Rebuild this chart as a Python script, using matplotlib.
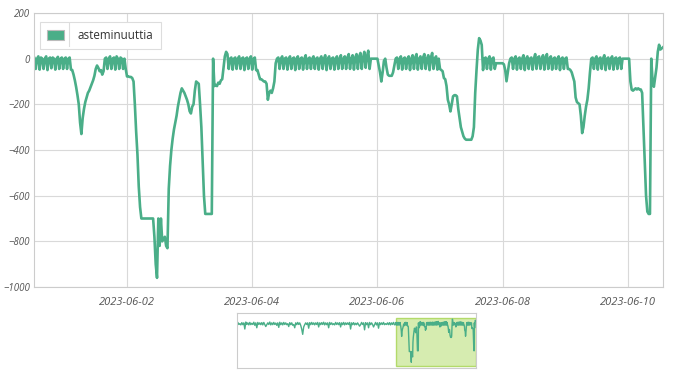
import matplotlib
matplotlib.use('Agg')
import matplotlib.pyplot as plt
import matplotlib.dates as mdates
from matplotlib.patches import Patch
from matplotlib.lines import Line2D
import pandas as pd

# half-hourly values, starting 2023-05-31 12:00
main_start = '2023-05-31 12:00'
main_values = [
    # 05-31 pm
    0, 5, -45, 0, 10, -48, 5, 0, -45, 0, 10, -50, 0, 5, -42, 5, 0, -48, 0, 8, -45, 0, 5, -45,
    # 06-01
    0, 5, -45, 0, 5, -48, -50, -70, -95, -125, -160, -200, -280, -330, -260, -220, -190, -170, -150, -140, -125, -110, -95, -75,
    -45, -30, -40, -55, -50, -70, -55, 0, 5, -45, 0, 10, -45, 0, 5, -48, 10, 0, -45, 5, 0, -45, 0, -45,
    # 06-02
    -78, -78, -80, -80, -85, -100, -200, -320, -420, -560, -650, -700, -700, -700, -700, -700, -700, -700, -700, -700, -700, -780, -900, -960,
    -700, -820, -700, -800, -790, -780, -820, -830, -570, -470, -400, -350, -310, -280, -250, -210, -180, -150, -130, -140, -150, -165, -180, -200,
    # 06-03
    -230, -240, -210, -200, -140, -100, -105, -110, -200, -300, -450, -600, -680, -680, -680, -680, -680, -680, 0, -120, -115, -120, -105, -110,
    -95, -90, -40, 10, 30, 20, -45, 0, 5, -48, 0, 5, -45, 0, 10, -45, 0, 5, -50, 0, 5, -45, 0, 10,
    # 06-04
    -48, 0, 5, -50, -50, -70, -90, -90, -95, -100, -100, -110, -180, -150, -140, -150, -130, -100, -20, 0, 5, -45, 0, 10,
    -45, 0, 5, -48, 0, 10, -45, 0, 5, -50, 0, 10, -45, 0, 5, -48, 0, 15, -45, 0, 5, -45, 0, 10,
    # 06-05
    -45, 0, 5, -48, 0, 10, -45, 0, 15, -50, 0, 10, -45, 0, 5, -48, 0, 10, -45, 0, 15, -45, 0, 10,
    -45, 5, 20, -45, 0, 15, -48, 5, 20, -45, 10, 25, -45, 5, 30, -40, 10, 35, -45, 0, 0, 0, 0, 0,
    # 06-06
    0, -30, -60, -100, -60, -10, 0, -40, -70, -75, -75, -75, -60, -30, 0, 5, -45, 0, 10, -48, 0, 5, -45, 0,
    10, -50, 0, 15, -45, 5, 20, -48, 0, 10, -45, 5, 20, -45, 0, 15, -50, 5, 25, -45, 0, 10, -48, 0,
    # 06-07
    -45, -50, -55, -85, -90, -120, -180, -200, -231, -200, -165, -160, -160, -165, -220, -260, -300, -320, -340, -350, -355, -355, -355, -355,
    -355, -340, -300, -150, -50, 40, 90, 80, 60, -50, 0, 5, -45, 0, 10, -48, 0, 5, -45, -20, -20, -20, -20, -20,
    # 06-08
    -20, -25, -50, -99, -60, -20, 0, 5, -45, 0, 10, -48, 0, 5, -45, 0, 15, -50, 0, 10, -45, 0, 5, -48,
    0, 20, -45, 5, 10, -45, 0, 15, -48, 5, 20, -45, 0, 10, -48, 0, 5, -45, 0, 10, -50, 0, 5, -45,
    # 06-09
    0, 5, -45, -45, -50, -60, -80, -100, -170, -190, -195, -200, -250, -326, -300, -250, -210, -180, -130, -60, 0, 5, -45, 0,
    10, -48, 0, 5, -45, 0, 15, -50, 0, 5, -45, 0, 10, -48, 0, 5, -45, 0, 5, -45, 0, 0, 0, 0,
    # 06-10
    0, 0, -100, -136, -140, -135, -130, -135, -130, -135, -135, -150, -297, -450, -600, -670, -680, -680, 0, -100, -123, -80, -40, 30,
    61, 40, 45, 50,
]

# 3-hourly values for the navigator before the main window, from 2023-05-11 12:00
nav_start = '2023-05-11 12:00'
nav_values = [
    0, -45, 10, -40, -20, -50, 5, -45,
    0, -150, 20, -40, 0, -50, 10, -45,
    -10, -40, 15, -60, 0, -120, 10, -40,
    0, -45, 5, -50, 10, -40, -90, -45,
    0, -40, 20, -50, 0, -45, 10, -40,
    -5, -60, 0, -110, 15, -45, 0, -50,
    10, -40, 0, -45, -20, -90, 5, -45,
    0, -60, -40, -120, 0, -45, 10, -40,
    0, -60, -150, -280, -100, -45, 0, -40,
    0, -130, 5, -45, 10, -40, 0, -50,
    0, -40, 10, -100, 0, -45, 5, -40,
    15, -50, 0, -45, 0, -120, 10, -40,
    0, -45, -20, -50, 10, -40, 0, -45,
    5, -100, 0, -45, 10, -50, 0, -40,
    0, -40, 10, -150, 0, -45, 5, -50,
    -10, -45, 0, -40, -80, -45, 10, -40,
    0, -170, 5, -45, 0, -120, 10, -45,
    0, -40, -100, -45, 10, -50, 0, -130,
    5, -45, 0, -40, 10, -45, -20, -40,
    0, -45, 5, -50, 0, -40, 10, -45,
]

series_name = 'asteminuuttia'
y_ticks = [-1000, -800, -600, -400, -200, 0, 200]
x_ticks = ['2023-06-02', '2023-06-04', '2023-06-06', '2023-06-08', '2023-06-10']
view_range = ('2023-05-31 12:20', '2023-06-10 13:30')
nav_range = ('2023-05-11 14:00', '2023-06-10 14:00')

GREEN = '#4aae88'
GRID = '#d9d9d9'
TEXT = '#555555'
FONT = ['Open Sans', 'DejaVu Sans']

main_times = pd.date_range(main_start, periods=len(main_values), freq='30min')
nav_times = pd.date_range(nav_start, periods=len(nav_values), freq='3h')

fig = plt.figure(figsize=(6.74, 3.72), dpi=100)
plt.rcParams['font.family'] = FONT

# main chart
ax = fig.add_axes([34 / 674, 1 - 287 / 372, 629 / 674, 274 / 372])
ax.plot(main_times, main_values, color=GREEN, lw=1.9, solid_joinstyle='round')
ax.set_xlim(pd.Timestamp(view_range[0]), pd.Timestamp(view_range[1]))
ax.set_ylim(-1000, 200)
ax.set_yticks(y_ticks)
ax.set_xticks([pd.Timestamp(t) for t in x_ticks])
ax.xaxis.set_major_formatter(mdates.DateFormatter('%Y-%m-%d'))
ax.grid(True, color=GRID, lw=0.8)
ax.set_axisbelow(True)
for sp in ax.spines.values():
    sp.set_color('#cccccc')
    sp.set_linewidth(0.8)
ax.tick_params(length=0, colors=TEXT)
ax.tick_params(axis='x', pad=7, labelsize=8)
ax.tick_params(axis='y', pad=3, labelsize=7)
for lbl in ax.get_xticklabels() + ax.get_yticklabels():
    lbl.set_style('italic')

leg = ax.legend(handles=[Patch(facecolor=GREEN, edgecolor='#bbbbbb', lw=0.8, label=series_name)],
                loc='upper left', bbox_to_anchor=(0.0095, 0.967), borderaxespad=0,
                fancybox=False, framealpha=1, edgecolor='#dddddd', fontsize=8.4,
                handlelength=1.5, handleheight=0.95, handletextpad=1.15,
                borderpad=0.6, labelcolor='#333333')
leg.get_frame().set_linewidth(0.8)
# divider between legend symbol and text
fig.add_artist(Line2D([69 / 674, 69 / 674], [1 - 23 / 372, 1 - 46 / 372],
                      transform=fig.transFigure, color='#dddddd', lw=0.8))

# navigator
nav = fig.add_axes([236.5 / 674, 1 - 368 / 372, 239.5 / 674, 55 / 372])
nav.plot(nav_times, nav_values, color=GREEN, lw=1.0)
nav.plot(main_times, main_values, color=GREEN, lw=1.0)
nav.set_xlim(pd.Timestamp(nav_range[0]), pd.Timestamp(nav_range[1]))
nav.set_ylim(-1100, 240)
nav.axvspan(pd.Timestamp(view_range[0]), pd.Timestamp(view_range[1]), ymin=0.04, ymax=0.91,
            facecolor='#c5e58f', alpha=0.7, edgecolor='#9ccf3c', lw=1.0)
nav.set_xticks([])
nav.set_yticks([])
for sp in nav.spines.values():
    sp.set_color('#cccccc')
    sp.set_linewidth(0.8)

fig.savefig('out.png', dpi=100)
